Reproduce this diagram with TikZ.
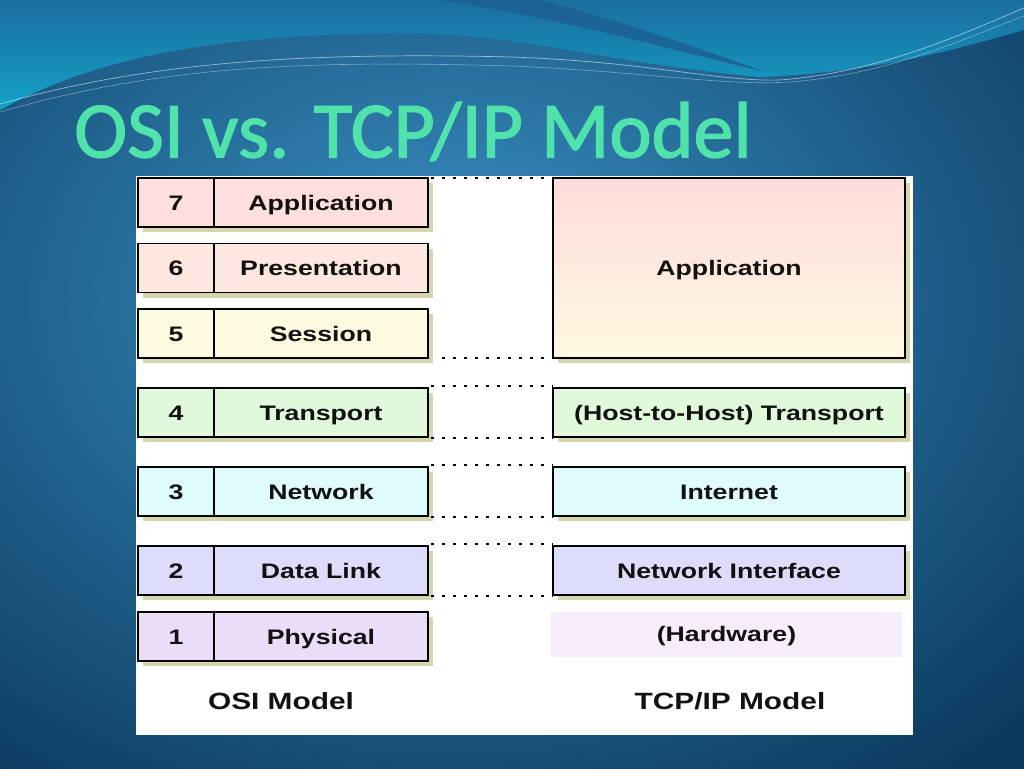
\documentclass[tikz,border=0pt]{standalone}
\usepackage{fontspec}
\usetikzlibrary{shadows}
\newfontfamily\labfont[FakeStretch=1.27]{Liberation Sans}
\newfontfamily\titlefont[FakeBold=1.6]{Carlito}
\definecolor{bgin}{HTML}{3A92C6}
\definecolor{bgout}{HTML}{0B3A5E}
\definecolor{tealT}{HTML}{1A6E9F}
\definecolor{tealB}{HTML}{14A2C8}
\definecolor{stripe}{HTML}{1D5E92}
\definecolor{titlec}{HTML}{4FE2AA}
\definecolor{shadowc}{HTML}{D6D6AE}
\definecolor{txt}{HTML}{111111}
\definecolor{c7}{HTML}{FFDEDE}
\definecolor{c6}{HTML}{FDE7DE}
\definecolor{c5}{HTML}{FFFBE0}
\definecolor{c4}{HTML}{E0F9DA}
\definecolor{c3}{HTML}{E0FBFC}
\definecolor{c2}{HTML}{DDDDFB}
\definecolor{c1}{HTML}{EBDDF8}
\definecolor{chw}{HTML}{F6ECFA}
\definecolor{apptop}{HTML}{FFDCDC}
\definecolor{appbot}{HTML}{FFF8E0}
\begin{document}
\begin{tikzpicture}[x=1pt,y=-1pt,
  layerbox/.style={draw=black, line width=1.8pt, inner sep=0pt, outer sep=0pt,
    minimum height=49pt, text=txt, text height=15pt, text depth=0pt,
    font=\labfont\bfseries\fontsize{21}{24}\selectfont,
    drop shadow={shadow xshift=5pt, shadow yshift=-5pt, fill=shadowc, opacity=1}},
  numbox/.style={layerbox, minimum width=76pt},
  namebox/.style={layerbox, minimum width=214pt},
  tcpbox/.style={layerbox, minimum width=352pt},
  dotline/.style={line width=2pt, dash pattern=on 3pt off 8pt, black},
  caption/.style={text=txt, text height=17pt, text depth=0pt,
    font=\labfont\bfseries\fontsize{23.5}{26}\selectfont, inner sep=0pt}
]
\useasboundingbox (0,0) rectangle (1024,768);
\clip (0,0) rectangle (1024,768);
% background
\shade[inner color=bgin, outer color=bgout] (-350,-300) rectangle (1250,900);
\shade[top color=tealT, bottom color=tealB]
  (0,0) -- (0,110) .. controls (100,55) and (220,35) .. (400,33)
  .. controls (520,33) and (600,62) .. (760,77)
  .. controls (880,72) and (960,48) .. (1024,30) -- (1024,0) -- cycle;
\fill[stripe, opacity=0.8] (440,0) .. controls (560,18) and (680,52) .. (765,72)
  .. controls (690,44) and (590,12) .. (540,0) -- cycle;
\draw[white, opacity=0.55, line width=0.7pt] (0,104) .. controls (150,62) and (300,52) .. (512,57)
  .. controls (650,62) and (720,82) .. (780,80) .. controls (880,72) and (960,35) .. (1024,8);
\draw[white, opacity=0.4, line width=0.6pt] (0,112) .. controls (160,66) and (300,60) .. (512,66)
  .. controls (650,72) and (720,86) .. (790,82) .. controls (890,74) and (960,40) .. (1024,16);
% title
\node[anchor=base west, inner sep=0pt, text=titlec,
  font=\titlefont\fontsize{80}{88}\selectfont] (title) at (74,157.5) {OSI vs. TCP/IP Model};
% white panel
\fill[white] (136,176) rectangle (913,735);
% OSI layers
\node[numbox, fill=c7] (n7) at (176,202.5) {7};
\node[namebox, fill=c7] (o7) at (321,202.5) {Application};
\node[numbox, fill=c6] (n6) at (176,268) {6};
\node[namebox, fill=c6] (o6) at (321,268) {Presentation};
\node[numbox, fill=c5] (n5) at (176,333.5) {5};
\node[namebox, fill=c5] (o5) at (321,333.5) {Session};
\node[numbox, fill=c4] (n4) at (176,412.5) {4};
\node[namebox, fill=c4] (o4) at (321,412.5) {Transport};
\node[numbox, fill=c3] (n3) at (176,491.5) {3};
\node[namebox, fill=c3] (o3) at (321,491.5) {Network};
\node[numbox, fill=c2] (n2) at (176,570.5) {2};
\node[namebox, fill=c2] (o2) at (321,570.5) {Data Link};
\node[numbox, fill=c1] (n1) at (176,636.5) {1};
\node[namebox, fill=c1] (o1) at (321,636.5) {Physical};
% TCP/IP layers
\node[tcpbox, minimum height=180pt, top color=apptop, bottom color=appbot] (tapp) at (729,268) {Application};
\node[tcpbox, fill=c4] (ttr) at (729,412.5) {(Host-to-Host) Transport};
\node[tcpbox, fill=c3] (tin) at (729,491.5) {Internet};
\node[tcpbox, fill=c2] (tni) at (729,570.5) {Network Interface};
\node[fill=chw, minimum width=351pt, minimum height=45pt, inner sep=0pt, text=txt,
  text height=15pt, text depth=0pt,
  font=\labfont\bfseries\fontsize{21}{24}\selectfont] (thw) at (726.5,634) {(Hardware)};
% dotted correspondences
\draw[dotline] (o7.north east) ++(3,0) -- (tapp.north west);
\draw[dotline] (o5.south east) ++(14,0) -- (tapp.south west);
\draw[dotline] (o4.north east) ++(3,-2) -- ([yshift=2pt]ttr.north west);
\draw[dotline] (o4.south east) ++(3,1) -- ([yshift=-1pt]ttr.south west);
\draw[dotline] (o3.north east) ++(3,-2) -- ([yshift=2pt]tin.north west);
\draw[dotline] (o3.south east) ++(3,1) -- ([yshift=-1pt]tin.south west);
\draw[dotline] (o2.north east) ++(3,-2) -- ([yshift=2pt]tni.north west);
\draw[dotline] (o2.south east) ++(3,1) -- ([yshift=-1pt]tni.south west);
% captions
\node[caption] (osicap) at (281,701) {OSI Model};
\node[caption] (tcpcap) at (730,701) {TCP/IP Model};
\end{tikzpicture}
\end{document}
